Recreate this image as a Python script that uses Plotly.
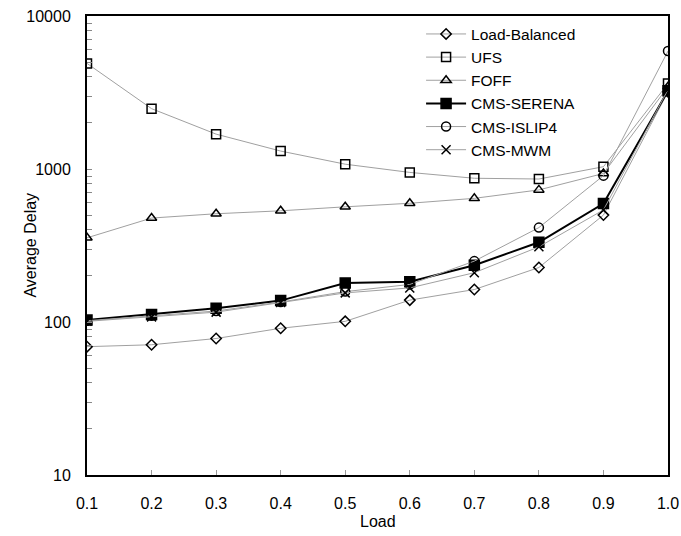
import plotly.graph_objects as go

load = [0.1, 0.2, 0.3, 0.4, 0.5, 0.6, 0.7, 0.8, 0.9, 1.0]
load_balanced = [69, 71, 78, 91, 101, 139, 163, 227, 500, 3200]
ufs = [4900, 2480, 1690, 1310, 1075, 950, 870, 860, 1035, 3620]
foff = [355, 478, 510, 533, 566, 597, 643, 730, 935, 3450]
cms_serena = [103, 112, 123, 138, 180, 183, 235, 332, 595, 3250]
cms_islip4 = [102, 110, 118, 135, 158, 176, 250, 414, 905, 5900]
cms_mwm = [101, 108, 116, 134, 155, 167, 210, 310, 540, 3300]
decades = [10, 100, 1000, 10000]
decade_labels = ["10", "100", "1000", "10000"]
x_ticks = [0.1, 0.2, 0.3, 0.4, 0.5, 0.6, 0.7, 0.8, 0.9, 1.0]
x_tick_text = ["0.1", "0.2", "0.3", "0.4", "0.5", "0.6", "0.7", "0.8", "0.9", "1.0"]

# log ticks: labelled decades plus unlabelled 2..9 multiples
y_tick_vals, y_tick_text = [], []
for d, lab in zip(decades, decade_labels):
    y_tick_vals.append(d)
    y_tick_text.append(lab)
    if d < 10000:
        for m in range(2, 10):
            y_tick_vals.append(d * m)
            y_tick_text.append("")

series = [
    ("Load-Balanced", load_balanced, "diamond-open", 8, "#a0a0a0", 1),
    ("UFS", ufs, "square-open", 9, "#a0a0a0", 1),
    ("FOFF", foff, "triangle-up-open", 9, "#a0a0a0", 1),
    ("CMS-SERENA", cms_serena, "square", 10, "black", 2),
    ("CMS-ISLIP4", cms_islip4, "circle-open", 9, "#a0a0a0", 1),
    ("CMS-MWM", cms_mwm, "x-thin-open", 9, "#a0a0a0", 1),
]

fig = go.Figure()
for name, vals, sym, size, lc, lw in series:
    fig.add_trace(go.Scatter(
        x=load, y=vals, name=name, mode="lines+markers",
        line=dict(color=lc, width=lw),
        marker=dict(symbol=sym, size=size, color="black",
                    line=dict(color="black", width=1.5)),
    ))

font = "Liberation Sans, Arial, sans-serif"
fig.update_layout(
    width=681, height=536,
    margin=dict(l=87, r=13, t=16, b=61),
    paper_bgcolor="white", plot_bgcolor="white",
    font=dict(family=font, size=16, color="black"),
    showlegend=True,
    legend=dict(x=0.575, y=0.997, xanchor="left", yanchor="top",
                bgcolor="rgba(0,0,0,0)", font=dict(size=15.5),
                tracegroupgap=0, itemwidth=40),
    annotations=[
        dict(text="Average Delay", textangle=-90, xref="paper", yref="paper",
             x=-0.098, y=0.5, xanchor="center", yanchor="middle",
             showarrow=False, font=dict(size=16)),
        dict(text="Load", xref="paper", yref="paper",
             x=0.5, y=-0.102, xanchor="center", yanchor="middle",
             showarrow=False, font=dict(size=16)),
    ],
)
fig.update_xaxes(
    range=[0.1, 1.0], tickvals=x_ticks, ticktext=x_tick_text,
    showline=True, linecolor="black", linewidth=2, mirror=True,
    ticks="inside", ticklen=5, tickcolor="#999999",
    showgrid=False, zeroline=False, ticklabelstandoff=13,
    ticklabeloverflow="allow", automargin=False,
)
fig.update_yaxes(
    type="log", range=[1, 4], tickvals=y_tick_vals, ticktext=y_tick_text,
    showline=True, linecolor="black", linewidth=2, mirror=True,
    ticks="inside", ticklen=5, tickcolor="#888888", tickwidth=1,
    showgrid=False, zeroline=False, ticklabelstandoff=11,
    ticklabeloverflow="allow", automargin=False,
)
fig.write_html("out.html", config={"displayModeBar": False},
               post_script="document.body.style.margin='0';")
